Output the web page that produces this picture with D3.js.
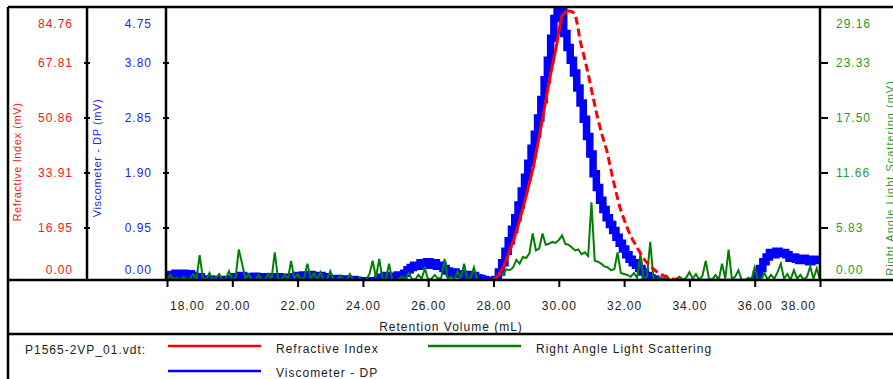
<!DOCTYPE html>
<meta charset="utf-8">
<script src="https://d3js.org/d3.v7.min.js"></script>
<style type="text/css">
body { margin: 0; background: #fff; }
svg { display: block; font-family: "Liberation Sans", Arial, sans-serif; }
.frame { stroke: #000; stroke-width: 2.5; fill: none; }
.tick-lbl { font-size: 12px; letter-spacing: 1px; }
.axis path { display: none; }
.axis line { stroke: #000; stroke-width: 2; }
.axis text { font-size: 12px; letter-spacing: 1px; fill: #222; }
.title { font-size: 11px; letter-spacing: 0.6px; }
.legend text { font-size: 12px; letter-spacing: 1px; fill: #222; }
</style>
<body>
<div id="chart"></div>
</body>
<script>

// x axis
var xTicks = [18, 20, 22, 24, 26, 28, 30, 32, 34, 36, 38];
var xTickLabels = ["18.00", "20.00", "22.00", "24.00", "26.00", "28.00", "30.00", "32.00", "34.00", "36.00", "38.00"];

// y axes (left red, left blue, right green)
var riTicks = [0, 16.95, 33.91, 50.86, 67.81, 84.76];
var riLabels = ["0.00", "16.95", "33.91", "50.86", "67.81", "84.76"];
var dpTicks = [0, 0.95, 1.90, 2.85, 3.80, 4.75];
var dpLabels = ["0.00", "0.95", "1.90", "2.85", "3.80", "4.75"];
var ralsTicks = [0, 5.83, 11.66, 17.50, 23.33, 29.16];
var ralsLabels = ["0.00", "5.83", "11.66", "17.50", "23.33", "29.16"];

// refractive index (mL, mV)
var riVolume = [18.0, 27.8, 28.0, 28.15, 28.30, 28.45, 28.61, 28.76, 28.91, 29.06, 29.22, 29.37, 29.53, 29.63, 29.73, 29.84, 29.94, 30.02, 30.10, 30.25,
  30.40, 30.50, 30.58, 30.65, 30.78, 30.90, 31.03, 31.16, 31.31, 31.47, 31.57, 31.67, 31.77, 31.87, 32.00, 32.13, 32.26, 32.39, 32.52, 32.64,
  32.80, 32.95, 33.15, 33.34, 33.55, 33.71, 33.85, 34.0, 38.0];
var riValue = [0, 0, 0.8, 2.2, 4.7, 8.5, 12.9, 17.8, 23.2, 29.2, 35.5, 43.5, 52.0, 57.8, 63.3, 68.6, 73.6, 78.5, 82.3, 83.8,
  83.5, 82.8, 79.0, 74.6, 69.5, 64.3, 58.0, 52.0, 46.0, 40.7, 36.0, 31.4, 27.2, 23.2, 19.4, 16.0, 13.2, 10.9, 8.7, 6.8,
  5.0, 3.7, 2.4, 1.5, 1.0, 0.8, 0.2, 0, 0];
var riPeakVolume = 30.25;

// viscometer DP and light scattering, sampled every 0.1 mL from 18.0 mL
var sampleStart = 18.0, sampleStep = 0.1;
var dpValue = [
  0.10, 0.14, 0.08, 0.16, 0.12, 0.16, 0.10, 0.15, 0.12, 0.08,
  0.10, 0.06, 0.04, 0.06, 0.03, 0.05, 0.04, 0.03, 0.05, 0.04,
  0.06, 0.10, 0.08, 0.12, 0.08, 0.10, 0.07, 0.11, 0.08, 0.10,
  0.08, 0.10, 0.09, 0.07, 0.10, 0.08, 0.06, 0.09, 0.07, 0.10,
  0.12, 0.09, 0.13, 0.10, 0.14, 0.11, 0.09, 0.12, 0.08, 0.10,
  0.06, 0.05, 0.07, 0.04, 0.06, 0.05, 0.03, 0.05, 0.04, 0.03,
  0.02, 0.02, 0.03, 0.02, 0.03, 0.05, 0.09, 0.12, 0.08, 0.11,
  0.09, 0.13, 0.10, 0.16, 0.22, 0.26, 0.30, 0.28, 0.34, 0.32,
  0.36, 0.30, 0.34, 0.28, 0.30, 0.24, 0.20, 0.16, 0.18, 0.14,
  0.15, 0.12, 0.14, 0.10, 0.12, 0.08, 0.07, 0.05, 0.04, 0.04,
  0.03, 0.05, 0.18, 0.34, 0.54, 0.72, 0.92, 1.12, 1.34, 1.58,
  1.82, 2.06, 2.32, 2.56, 2.84, 3.16, 3.50, 3.84, 4.22, 4.56,
  4.70, 4.68, 4.30, 4.06, 3.84, 3.62, 3.36, 3.10, 2.82, 2.52,
  2.22, 1.88, 1.64, 1.42, 1.26, 1.12, 1.00, 0.90, 0.78, 0.68,
  0.58, 0.48, 0.40, 0.34, 0.30, 0.24, 0.18, 0.12, 0.08, 0.06,
  0.04, 0.02, 0.01, 0, 0, 0, 0, 0, 0, 0,
  0, 0, 0, 0, 0, 0, 0, 0, 0, 0,
  0, 0, 0, 0, 0, 0, 0, 0, 0, 0,
  0.02, 0.14, 0.24, 0.36, 0.44, 0.52, 0.48, 0.54, 0.50, 0.52,
  0.48, 0.42, 0.44, 0.40, 0.38, 0.42, 0.40, 0.36, 0.40, 0.38,
  0.40];
var ralsValue = [
  0.2, 0.8, 0.3, 0.5, 0.2, 0.6, 0.3, 0.4, 0.9, 0.3,
  2.9, 0.4, 0.3, 1.0, 0.3, 0.5, 0.9, 0.2, 0.4, 1.2,
  0.3, 0.5, 3.5, 2.0, 0.4, 0.9, 0.3, 0.2, 0.8, 0.3,
  0.3, 0.9, 0.3, 3.2, 0.4, 0.3, 0.8, 0.3, 2.3, 0.4,
  0.9, 0.3, 0.5, 2.0, 0.4, 1.0, 0.3, 1.1, 0.3, 0.3,
  1.2, 0.3, 0.2, 0.7, 0.3, 0.2, 0.9, 0.3, 0.2, 0.4,
  0.2, 0.3, 0.9, 2.3, 0.5, 2.5, 0.4, 0.3, 2.0, 0.3,
  0.2, 0.4, 0.6, 0.3, 1.0, 0.4, 0.3, 0.8, 0.4, 1.5,
  0.3, 0.4, 0.8, 0.4, 0.5, 2.5, 0.4, 0.6, 0.3, 1.2,
  0.4, 2.0, 0.3, 0.5, 1.6, 0.3, 0.2, 0.3, 0.2, 0.3,
  0.4, 0.6, 0.8, 0.9, 1.4, 1.3, 1.6, 2.4, 2.0, 2.7,
  2.6, 3.1, 5.2, 3.4, 3.6, 5.2, 4.0, 4.1, 4.3, 4.2,
  4.5, 5.0, 4.1, 4.0, 3.7, 3.4, 3.5, 3.0, 3.2, 2.8,
  8.5, 2.3, 2.2, 2.0, 1.7, 1.6, 1.3, 1.4, 3.2, 1.0,
  0.9, 0.8, 0.6, 1.0, 0.5, 3.0, 0.4, 0.6, 4.3, 0.4,
  0.3, 0.5, 0.2, 0.7, 0.3, 0.2, 0.4, 0.6, 0.3, 0.5,
  1.1, 0.4, 0.9, 0.3, 0.7, 2.3, 0.4, 0.3, 0.8, 0.3,
  2.0, 0.4, 3.5, 0.4, 0.6, 1.3, 0.3, 0.2, 0.5, 0.3,
  1.6, 0.3, 0.4, 1.0, 0.3, 0.8, 0.4, 1.1, 2.0, 0.4,
  0.9, 0.3, 1.3, 0.4, 0.8, 0.3, 0.6, 1.7, 0.4, 1.5,
  0.3];

var fileName = "P1565-2VP_01.vdt:";
var riName = "Refractive Index", dpName = "Viscometer - DP", ralsName = "Right Angle Light Scattering";

var RED = "#ff0000", BLUE = "#0000ff", GREEN = "#008000";
var RED_TXT = "#f02020", BLUE_TXT = "#2424f0", GREEN_TXT = "#2a9a2a";

var width = 893, height = 379;
var plot = {left: 166, right: 820, top: 7, bottom: 280};

var svg = d3.select("#chart").append("svg")
    .attr("width", width)
    .attr("height", height);

// scales
var xScale = d3.scaleLinear().domain([18, 38]).range([167, 820]);
var yRI = d3.scaleLinear().domain([0, 84.76]).range([282.5, 7.5]);
var yDP = d3.scaleLinear().domain([0, 4.75]).range([282.5, 7.5]);
var yRALS = d3.scaleLinear().domain([0, 29.16]).range([282.5, 7.5]);

// series
var dpData = dpValue.map(function(v, i) { return {x: sampleStart + i * sampleStep, y: v}; });
var ralsData = ralsValue.map(function(v, i) { return {x: sampleStart + i * sampleStep, y: v}; });
var riData = riVolume.map(function(v, i) { return {x: v, y: riValue[i]}; });

svg.append("clipPath").attr("id", "plotClip")
  .append("rect")
    .attr("x", plot.left).attr("y", plot.top)
    .attr("width", plot.right - plot.left).attr("height", plot.bottom - plot.top);

var lines = svg.append("g").attr("clip-path", "url(#plotClip)");

// the DP trace is very noisy, so it shows as a wide band
lines.append("path")
  .datum(dpData)
  .attr("fill", "none")
  .attr("stroke", BLUE)
  .attr("stroke-width", 7.5)
  .attr("d", d3.line().curve(d3.curveStep)
    .x(function(d) { return xScale(d.x); })
    .y(function(d) { return yDP(d.y); }));

lines.append("path")
  .datum(ralsData)
  .attr("fill", "none")
  .attr("stroke", GREEN)
  .attr("stroke-width", 2)
  .attr("d", d3.line()
    .x(function(d) { return xScale(d.x); })
    .y(function(d) { return yRALS(d.y); }));

var riLine = d3.line()
  .x(function(d) { return xScale(d.x); })
  .y(function(d) { return yRI(d.y); });

// rising side solid, falling side drawn broken like the original
lines.append("path")
  .datum(riData.filter(function(d) { return d.x <= riPeakVolume; }))
  .attr("fill", "none")
  .attr("stroke", RED)
  .attr("stroke-width", 3)
  .attr("d", riLine);

lines.append("path")
  .datum(riData.filter(function(d) { return d.x >= riPeakVolume; }))
  .attr("fill", "none")
  .attr("stroke", RED)
  .attr("stroke-width", 3)
  .attr("stroke-dasharray", "8,4")
  .attr("d", riLine);

// frame lines
var frame = [
  [8, 7, width, 7],
  [8, 7, 8, height],
  [87, 7, 87, plot.bottom],
  [plot.left, 7, plot.left, plot.bottom],
  [plot.right, 7, plot.right, plot.bottom],
  [8, plot.bottom, width, plot.bottom],
  [8, 334, width, 334]
];
svg.selectAll(".frame")
  .data(frame).enter().append("line")
  .attr("class", "frame")
  .attr("x1", function(d) { return d[0]; })
  .attr("y1", function(d) { return d[1]; })
  .attr("x2", function(d) { return d[2]; })
  .attr("y2", function(d) { return d[3]; });

// x axis
var xAxis = d3.axisBottom(xScale)
  .tickValues(xTicks)
  .tickSize(7)
  .tickPadding(14)
  .tickFormat(function(d, i) { return xTickLabels[i]; });

var xAxisGroup = svg.append("g")
  .attr("class", "axis")
  .attr("transform", "translate(0," + plot.bottom + ")")
  .call(xAxis);

// first and last labels are pushed inside the frame
xAxisGroup.selectAll("text")
  .attr("dx", function(d, i) { return i == 0 ? 20 : (i == xTicks.length - 1 ? -22 : 0); });

// y axes: tick marks
function tickMarks(scale, vals, x, size) {
  svg.append("g")
    .attr("class", "axis")
    .attr("transform", "translate(" + x + ",0)")
    .call(d3.axisRight(scale).tickValues(vals.slice(1, -1)).tickSize(size).tickFormat(""));
}
tickMarks(yRI, riTicks, 84, 6);
tickMarks(yDP, dpTicks, 163, 6);
tickMarks(yRALS, ralsTicks, plot.right, 8);

function tickLabels(scale, vals, labels, x, anchor, color) {
  svg.append("g").selectAll("text")
    .data(vals).enter().append("text")
    .attr("class", "tick-lbl")
    .attr("x", x)
    .attr("y", function(d, i) {
      var y = scale(d);
      if (i == 0) y = 270;
      if (i == vals.length - 1) y = 24;
      return y;
    })
    .attr("dy", "0.36em")
    .attr("text-anchor", anchor)
    .style("fill", color)
    .text(function(d, i) { return labels[i]; });
}
tickLabels(yRI, riTicks, riLabels, 73, "end", RED_TXT);
tickLabels(yDP, dpTicks, dpLabels, 152, "end", BLUE_TXT);
tickLabels(yRALS, ralsTicks, ralsLabels, 836, "start", GREEN_TXT);

// axis titles
svg.append("text").attr("class", "title")
  .attr("transform", "translate(21,162) rotate(-90)")
  .attr("text-anchor", "middle").style("fill", RED_TXT)
  .text("Refractive Index (mV)");

svg.append("text").attr("class", "title")
  .attr("transform", "translate(101,158) rotate(-90)")
  .attr("text-anchor", "middle").style("fill", BLUE_TXT)
  .text("Viscometer - DP (mV)");

// runs into the right edge of the picture, as in the original
svg.append("text").attr("class", "title")
  .attr("transform", "translate(893.5,178) rotate(-90)")
  .attr("text-anchor", "middle").style("fill", GREEN_TXT)
  .style("letter-spacing", "1px")
  .text("Right Angle Light Scattering (mV)");

svg.append("text")
  .attr("x", 451).attr("y", 331)
  .attr("text-anchor", "middle")
  .style("font-size", "12px").style("letter-spacing", "1px").style("fill", "#222")
  .text("Retention Volume (mL)");

// legend
var legend = svg.append("g").attr("class", "legend");
legend.append("text").attr("x", 25).attr("y", 353.5).text(fileName);

var legendItems = [
  {name: riName, color: RED, x: 168, y: 346},
  {name: ralsName, color: GREEN, x: 428, y: 346},
  {name: dpName, color: BLUE, x: 168, y: 371}
];
var item = legend.selectAll(".item")
  .data(legendItems).enter().append("g")
  .attr("class", "item")
  .attr("transform", function(d) { return "translate(" + d.x + "," + d.y + ")"; });

item.append("line")
  .attr("x1", 0).attr("x2", 93)
  .attr("stroke", function(d) { return d.color; })
  .attr("stroke-width", 2.5);

item.append("text")
  .attr("x", 108).attr("y", function(d) { return d.y > 360 ? 5.5 : 7; })
  .text(function(d) { return d.name; });

</script>
